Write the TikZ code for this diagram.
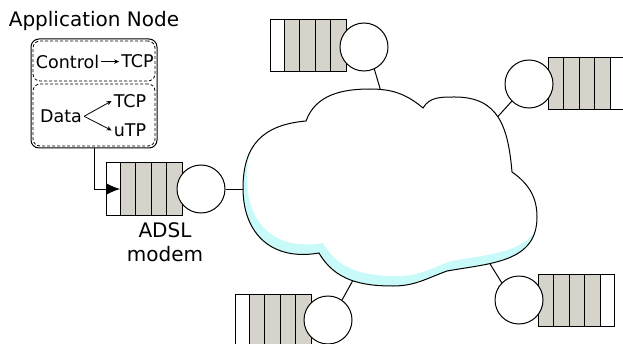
\documentclass[tikz,border=0pt]{standalone}
\usepackage{fontspec}
\setmainfont{DejaVu Sans}
\usetikzlibrary{arrows.meta,positioning}
\definecolor{queuegrey}{HTML}{D6D3CB}
\definecolor{cloudcyan}{HTML}{C8FAFA}
% outline of the internet cloud, clockwise from the lower left notch
\newcommand{\cloudoutline}{(319,90) to[out=190,in=270,looseness=1.2] (243,155)
  to[out=90,in=185,looseness=1.2] (306,222) to[out=70,in=180] (370,254)
  to[out=0,in=140] (423,235) to[out=60,in=180] (455,246)
  to[out=0,in=95,looseness=1.2] (512,171) to[out=-35,in=90] (537,126)
  to[out=270,in=10,looseness=1.1] (447,72) to[out=200,in=0] (393,57)
  to[out=180,in=-60] (319,90) -- cycle}

\begin{document}
\begin{tikzpicture}[x=1pt,y=1pt,
  lbl/.style={font=\fontsize{20}{24}\selectfont,align=center,inner sep=0pt},
  intext/.style={font=\fontsize{17.5}{20}\selectfont,inner sep=2pt},
  part/.style={draw,dash pattern=on 3pt off 2pt,rounded corners=7pt,line width=.8pt,minimum width=122pt},
  srv/.style={draw,circle,fill=white,minimum size=48pt,inner sep=0pt,line width=1pt},
  cell/.style={draw,fill=queuegrey,line width=1pt},
  slot/.style={draw,fill=white,line width=1pt},
  link/.style={line width=1pt},
  flow/.style={-{Latex[length=14pt,width=12pt]},line width=1pt},
  small/.style={-{Stealth[length=5pt,width=4.5pt]},line width=.8pt}
]
\useasboundingbox (0,0) rectangle (623,343);

% application node with its two transport parts
\node[lbl,anchor=base] (apptitle) at (94,316) {Application Node};
\node[draw,rounded corners=8pt,line width=1pt,minimum width=126pt,minimum height=109pt] (app) at (94,249.5) {};
\node[part,minimum height=40pt] (ctrlbox) at (94,282) {};
\node[part,minimum height=62pt] (databox) at (94,228) {};
\node[intext] (ctrl) at (67.5,281.4) {Control};
\node[intext] (ctcp) at (137.5,281.4) {TCP};
\node[intext] (data) at (61,226.7) {Data};
\node[intext] (dtcp) at (130,242) {TCP};
\node[intext] (dutp) at (130,212.6) {uTP};
\draw[small] (ctrl.east) -- (ctcp.west);
\draw[small] (data.east) -- (dtcp.west);
\draw[small] (data.east) -- (dutp.west);

% queues: grey cells plus the free slot
\foreach \gx/\gy/\wx in {120/154/106, 284/297/270, 548/259/610, 538/43/600, 249/23/235} {
  \draw[slot] (\wx,\gy-26) rectangle ++(14,52);
  \foreach \k in {0,...,3}
    \draw[cell] (\gx+\k*15.5,\gy-26) rectangle ++(15.5,52);
}
\coordinate (adslin) at (120,154);

% servers
\node[srv] (adsl) at (201,154) {};
\node[srv] (stl) at (364,296) {};
\node[srv] (srt) at (529,259) {};
\node[srv] (sbr) at (519,43) {};
\node[srv] (sbl) at (328,23) {};
\node[lbl] (adsllbl) at (165,101) {ADSL\\modem};

\draw[flow] (app.south) |- (adslin);

% links into the cloud
\coordinate (cW) at (248,154);
\coordinate (cN) at (382,248);
\coordinate (cNE) at (492,220);
\coordinate (cSE) at (487,84);
\coordinate (cS) at (357,70);
\draw[link] (adsl.east) -- (cW);
\draw[link] (stl.-65) -- (cN);
\draw[link] (srt.225) -- (cNE);
\draw[link] (sbr.135) -- (cSE);
\draw[link] (sbl.55) -- (cS);

% cloud with its cyan shade
\fill[cloudcyan] \cloudoutline;
\begin{scope}
  \clip \cloudoutline;
  \fill[white,xshift=4pt,yshift=10pt] \cloudoutline;
\end{scope}
\draw[line width=1pt] \cloudoutline;
\end{tikzpicture}
\end{document}
